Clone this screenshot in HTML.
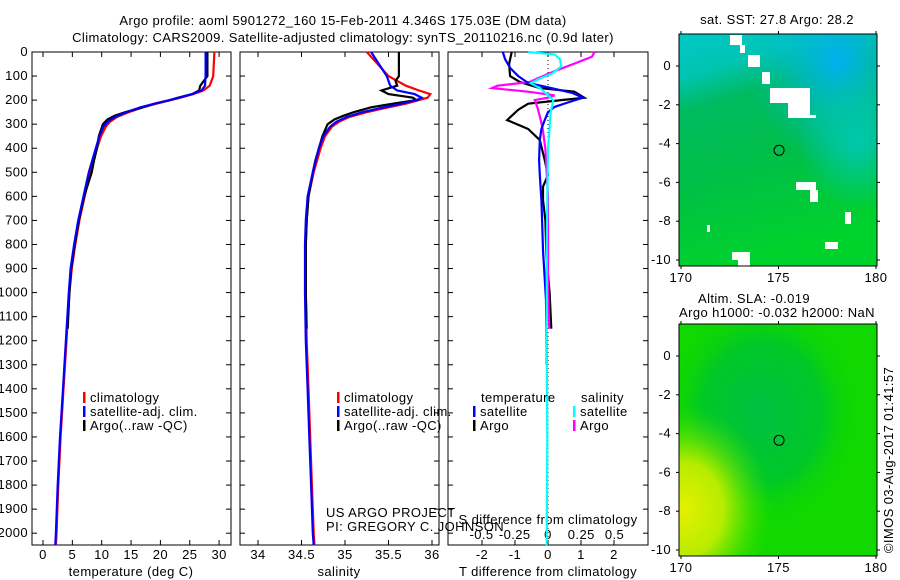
<!DOCTYPE html>
<html><head><meta charset="utf-8"><style>
body{margin:0;background:#fff;}
svg{display:block;font-family:"Liberation Sans",sans-serif;}
text{font-size:13px;letter-spacing:0.4px;fill:#000;}
</style></head><body>
<svg id="fig" width="900" height="580" viewBox="0 0 900 580" xmlns="http://www.w3.org/2000/svg">
<defs>
<linearGradient id="sst" x1="0" y1="0" x2="0.25" y2="1">
<stop offset="0" stop-color="#00c8c8"/><stop offset="0.18" stop-color="#00c4b0"/><stop offset="0.32" stop-color="#00ba60"/><stop offset="0.6" stop-color="#00be48"/><stop offset="1" stop-color="#00d22c"/>
</linearGradient>
<radialGradient id="sstblue" cx="0.8" cy="0.12" r="0.45"><stop offset="0" stop-color="#00b0f0"/><stop offset="1" stop-color="#00c0d0" stop-opacity="0"/></radialGradient>
<radialGradient id="sstcyan" cx="0.9" cy="0.45" r="0.3"><stop offset="0" stop-color="#00c8b0"/><stop offset="1" stop-color="#00c8b0" stop-opacity="0"/></radialGradient>
<radialGradient id="slaDark" cx="0.42" cy="0.38" r="0.5"><stop offset="0" stop-color="#00c040"/><stop offset="0.6" stop-color="#00c828"/><stop offset="1" stop-color="#10d800" stop-opacity="0"/></radialGradient>
<radialGradient id="slaYel" cx="0.02" cy="0.8" r="0.45"><stop offset="0" stop-color="#e4f000"/><stop offset="0.45" stop-color="#b8ec00"/><stop offset="1" stop-color="#40e000" stop-opacity="0"/></radialGradient>
</defs>
<g id="g"></g>
</svg>
<script>
// ---- data ----
const depthTicks=[0,100,200,300,400,500,600,700,800,900,1000,1100,1200,1300,1400,1500,1600,1700,1800,1900,2000];
const tempTicks=[0,5,10,15,20,25,30];
const salTicks=[34,34.5,35,35.5,36];
const tDiffTicks=[-2,-1,0,1,2];
const sDiffTicks=[-0.5,-0.25,0,0.25,0.5];
const sDiffLabels=["-0.5","-0.25","0","0.25","0.5"];

const climDepth=[0,100,140,160,175,190,200,215,230,250,270,290,310,350,400,500,600,700,800,900,1000,1200,1400,1600,1800,2000,2050];
const climTemp=[29.2,29.0,28.4,27.3,25.6,23.4,21.8,19.3,17.0,14.6,12.6,11.4,10.7,9.9,9.2,8.0,7.1,6.2,5.5,4.9,4.5,4.0,3.5,3.0,2.6,2.3,2.2];
const satTemp=[27.7,27.7,27.6,27.0,25.4,23.2,21.6,19.0,16.6,14.2,12.3,11.0,10.3,9.6,9.0,7.8,6.9,6.0,5.3,4.7,4.4,3.9,3.4,2.9,2.5,2.2,2.1];
const argoDepth=[0,100,120,140,160,175,190,200,215,230,250,265,280,290,300,350,400,450,500,600,700,800,900,1000,1150];
const argoTemp=[28.0,28.0,27.4,26.8,26.6,25.4,23.0,21.6,19.0,17.0,14.0,12.2,11.0,10.6,10.2,9.5,9.2,8.7,8.3,7.0,6.1,5.4,4.8,4.5,4.2];

const climSal=[35.25,35.5,35.7,35.85,35.98,35.95,35.85,35.7,35.5,35.25,35.05,34.93,34.85,34.77,34.72,34.64,34.58,34.56,34.55,34.55,34.55,34.56,34.58,34.6,34.62,34.64,34.65];
const satSal=[35.3,35.48,35.52,35.6,35.8,35.88,35.82,35.65,35.45,35.2,35.02,34.9,34.83,34.75,34.7,34.63,34.57,34.55,34.54,34.54,34.54,34.55,34.57,34.59,34.61,34.63,34.64];
const argoSal=[35.62,35.62,35.58,35.6,35.42,35.5,35.78,35.82,35.55,35.3,35.1,34.98,34.88,34.84,34.8,34.74,34.7,34.66,34.63,34.58,34.56,34.55,34.55,34.55,34.56];

const dDepth=[0,30,66,100,129,150,171,190,210,228,250,283,320,366,449,511,615,700,823,1031,1150,1300];
const satTDiff=[-1.37,-1.3,-1.15,-0.9,-0.6,0.1,0.75,1.06,0.6,0.2,0.0,-0.1,-0.2,-0.25,-0.27,-0.25,-0.2,-0.18,-0.15,-0.06,-0.05,-0.04];
const argoTDiffDepth=[0,50,100,125,150,165,190,200,215,240,283,320,366,449,511,560,615,700,850,1000,1150];
const argoTDiff=[-1.1,-1.18,-1.15,-0.85,-0.25,0.8,1.1,0.4,-0.6,-0.9,-1.24,-0.6,-0.25,-0.1,0.0,-0.15,-0.15,-0.08,-0.05,0.05,0.1];
const argoSDiffDepth=[0,20,50,80,110,125,140,150,165,180,190,200,230,270,320,400,600,800,1000,1150];
const argoSDiff=[0.35,0.33,0.19,0.05,-0.08,-0.14,-0.38,-0.42,-0.15,0.05,0.0,-0.1,-0.08,-0.06,-0.04,-0.02,0.0,0.0,0.0,0.01];
const satSDiffDepth=[0,10,30,60,90,110,130,150,180,200,250,400,800,1200,1600,2050];
const satSDiff=[-0.15,0.05,0.09,0.1,0.03,-0.06,-0.13,-0.06,0.0,0.04,0.02,0.0,-0.01,-0.01,-0.005,-0.01];

const lonTicks=[170,175,180];
const latTicks=[0,-2,-4,-6,-8,-10];

// ---- scales ----
const yD=d=>52+d*0.2406;
const xT=t=>43+5.87*t;
const xS=s=>258+87*(s-34);
const xdT=v=>548+33*v;
const xdS=v=>548+133*v;
const NS="http://www.w3.org/2000/svg";
const g=document.getElementById('g');
function el(tag,attrs,parent){const e=document.createElementNS(NS,tag);for(const k in attrs)e.setAttribute(k,attrs[k]);(parent||g).appendChild(e);return e;}
function txt(s,x,y,anchor,parent){const e=el('text',{x:x,y:y,'text-anchor':anchor||'start'},parent);e.textContent=s;return e;}
function line(depths,vals,xf,color,name,w){
  const pts=depths.map((d,i)=>xf(vals[i]).toFixed(1)+','+yD(d).toFixed(1)).join(' ');
  const p=el('polyline',{points:pts,fill:'none',stroke:color,'stroke-width':w||2.2});
  
  
}

// titles
let t=txt('Argo profile: aoml 5901272_160 15-Feb-2011 4.346S 175.03E (DM data)',343,25,'middle');


t=txt('Climatology: CARS2009. Satellite-adjusted climatology: synTS_20110216.nc (0.9d later)',343,42,'middle');



// panels
const panels=[[32,231,'temperature-panel'],[240,439,'salinity-panel'],[448,648,'difference-panel']];
panels.forEach(p=>{const r=el('rect',{x:p[0],y:52,width:p[1]-p[0],height:493,fill:'none',stroke:'#000','stroke-width':1});

});

// depth axis
depthTicks.forEach(d=>{
  const e=txt(String(d),28,yD(d)+4,'end');
  
  
  el('line',{x1:32,x2:37,y1:yD(d),y2:yD(d),stroke:'#000'});
  el('line',{x1:226,x2:231,y1:yD(d),y2:yD(d),stroke:'#000'});
  el('line',{x1:240,x2:245,y1:yD(d),y2:yD(d),stroke:'#000'});
  el('line',{x1:434,x2:439,y1:yD(d),y2:yD(d),stroke:'#000'});
  el('line',{x1:448,x2:453,y1:yD(d),y2:yD(d),stroke:'#000'});
  el('line',{x1:643,x2:648,y1:yD(d),y2:yD(d),stroke:'#000'});
});
tempTicks.forEach(v=>{const x=xT(v);el('line',{x1:x,x2:x,y1:52,y2:57,stroke:'#000'});el('line',{x1:x,x2:x,y1:540,y2:545,stroke:'#000'});
 const e=txt(String(v),x,559,'middle');});
salTicks.forEach(v=>{const x=xS(v);el('line',{x1:x,x2:x,y1:52,y2:57,stroke:'#000'});el('line',{x1:x,x2:x,y1:540,y2:545,stroke:'#000'});
 const e=txt(String(v),x,559,'middle');});
tDiffTicks.forEach(v=>{const x=xdT(v);el('line',{x1:x,x2:x,y1:52,y2:57,stroke:'#000'});el('line',{x1:x,x2:x,y1:540,y2:545,stroke:'#000'});
 const e=txt(String(v),x,559,'middle');});
sDiffTicks.forEach((v,i)=>{const e=txt(sDiffLabels[i],xdS(v),539,'middle');});
t=txt('temperature (deg C)',131,576,'middle');
t=txt('salinity',339,576,'middle');
t=txt('T difference from climatology',548,576,'middle');
t=txt('S difference from climatology',548,524,'middle');

// zero line
el('line',{x1:548,x2:548,y1:52,y2:545,stroke:'#000','stroke-dasharray':'1,3'});

// series
line(climDepth,climTemp,xT,'#ff0000','temp-climatology-line');
line(argoDepth,argoTemp,xT,'#000000','temp-argo-line');
line(climDepth,satTemp,xT,'#0000ff','temp-satellite-line');
line(climDepth,climSal,xS,'#ff0000','sal-climatology-line');
line(argoDepth,argoSal,xS,'#000000','sal-argo-line');
line(climDepth,satSal,xS,'#0000ff','sal-satellite-line');
line(argoTDiffDepth,argoTDiff,xdT,'#000000','t-diff-argo-line');
line(argoSDiffDepth,argoSDiff,xdS,'#ff00ff','s-diff-argo-line');
line(dDepth,satTDiff,xdT,'#0000ff','t-diff-satellite-line');
line(satSDiffDepth,satSDiff,xdS,'#00ffff','s-diff-satellite-line');

// legends
function leg(x,y,color,label,name){
  const gg=el('g',{});
  
  
  el('rect',{x:x,y:y-10,width:2.5,height:11,fill:color},gg);
  txt(label,x+7,y,'start',gg);
}
leg(83,402,'#ff0000','climatology','legend-entry-climatology');
leg(83,416,'#0000ff','satellite-adj. clim.','legend-entry-satellite');
leg(83,430,'#000000','Argo(..raw -QC)','legend-entry-argo');
leg(337,402,'#ff0000','climatology','legend-entry-climatology-2');
leg(337,416,'#0000ff','satellite-adj. clim.','legend-entry-satellite-2');
leg(337,430,'#000000','Argo(..raw -QC)','legend-entry-argo-2');
t=txt('temperature',481,402);
t=txt('salinity',581,402);
leg(473,416,'#0000ff','satellite','legend-entry-t-satellite');
leg(473,430,'#000000','Argo','legend-entry-t-argo');
leg(573,416,'#00ffff','satellite','legend-entry-s-satellite');
leg(573,430,'#ff00ff','Argo','legend-entry-s-argo');
t=txt('US ARGO PROJECT',326,517);
t=txt('PI: GREGORY C. JOHNSON',326,531);

// maps
function map(y0,y1,name,type){
  const gg=el('g',{});
  
  
  const x0=679,x1=877,w=x1-x0,h=y1-y0;
  if(type==='sst'){
    el('rect',{x:x0,y:y0,width:w,height:h,fill:'url(#sst)'},gg);
    el('rect',{x:x0,y:y0,width:w,height:h,fill:'url(#sstblue)'},gg);
    el('rect',{x:x0,y:y0,width:w,height:h,fill:'url(#sstcyan)'},gg);
    const whites=[[730,35,12,10],[740,45,5,8],[748,55,12,12],[762,72,8,12],[770,88,40,15],[788,100,22,18],[803,115,13,3],[796,182,20,8],[810,190,8,12],[845,212,6,12],[825,242,13,7],[732,252,18,8],[738,258,12,8],[707,225,3,7]];
    whites.forEach(r=>el('rect',{x:r[0],y:r[1],width:r[2],height:r[3],fill:'#fff'},gg));
  }else{
    el('rect',{x:x0,y:y0,width:w,height:h,fill:'#10d800'},gg);
    el('rect',{x:x0,y:y0,width:w,height:h,fill:'url(#slaDark)'},gg);
    el('rect',{x:x0,y:y0,width:w,height:h,fill:'url(#slaYel)'},gg);
  }
  el('rect',{x:x0,y:y0,width:w,height:h,fill:'none',stroke:'#000'},gg);
  const lat0=type==='sst'?66:356, latS=19.4;
  const xl=v=>681+19.5*(v-170);
  latTicks.forEach(v=>{const y=lat0-latS*v;el('line',{x1:x0-3,x2:x0,y1:y,y2:y,stroke:'#000'},gg);el('line',{x1:x1,x2:x1+3,y1:y,y2:y,stroke:'#000'},gg);
    const e=txt(String(v),x0-8,y+4,'end',gg);});
  lonTicks.forEach(v=>{const x=xl(v);el('line',{x1:x,x2:x,y1:y0-3,y2:y0,stroke:'#000'},gg);el('line',{x1:x,x2:x,y1:y1,y2:y1+3,stroke:'#000'},gg);
    const e=txt(String(v),x,y1+16,'middle',gg);});
  el('circle',{cx:xl(175.03),cy:lat0+latS*4.346,r:5,fill:'none',stroke:'#000'},gg);
}
map(34,266,'sst-map','sst');
map(324,556,'sla-map','sla');
t=txt('sat. SST: 27.8 Argo: 28.2',777,24,'middle');
t=txt('Altim. SLA: -0.019',754,303,'middle');
t=txt('Argo h1000: -0.032 h2000: NaN',777,317,'middle');
t=txt('\u00A9IMOS 03-Aug-2017 01:41:57',0,0,'middle');
t.setAttribute('transform','translate(893,460) rotate(-90)');


</script>
</body></html>
